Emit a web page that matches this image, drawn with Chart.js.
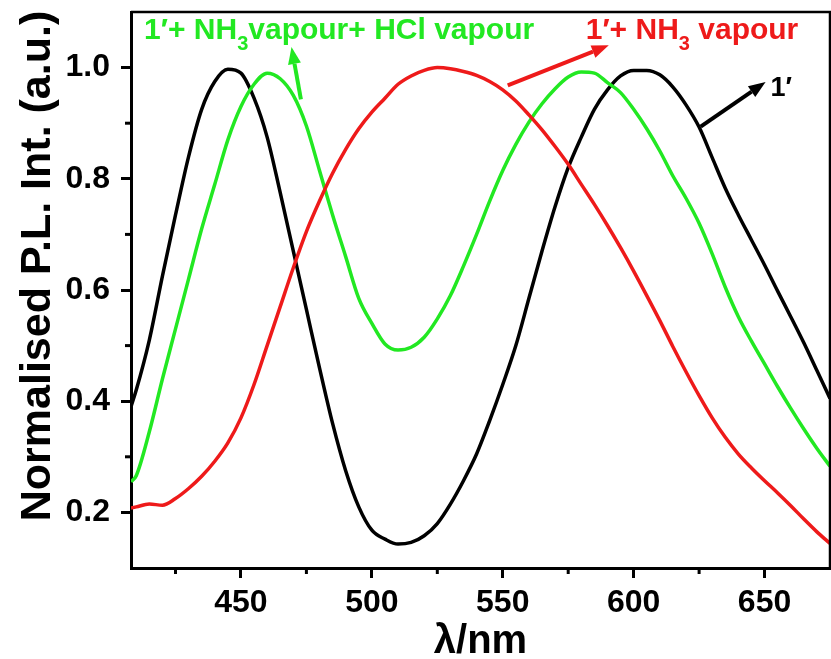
<!DOCTYPE html>
<html>
<head>
<meta charset="utf-8">
<title>Normalised PL spectra</title>
<script src="https://cdn.jsdelivr.net/npm/chart.js@4.4.1/dist/chart.umd.min.js"></script>
<style>
  html, body { margin: 0; padding: 0; background: #fff; }
  #wrap { width: 831px; height: 659px; }
</style>
</head>
<body>
<div id="wrap"><canvas id="pl-chart" width="831" height="659"></canvas></div>
<script>
// wavelength grid (nm)
var wavelength = [408, 410, 415, 420, 425, 430, 435, 440, 445, 450, 455, 460, 465, 470, 475,
  480, 485, 490, 495, 500, 505, 510, 515, 520, 525, 530, 535, 540, 545, 550, 555, 560, 565,
  570, 575, 580, 585, 590, 595, 600, 605, 610, 615, 620, 625, 630, 635, 640, 645, 650, 655,
  660, 665, 670, 675];

// 1'
var pristine = [0.39, 0.42, 0.51, 0.625, 0.735, 0.84, 0.925, 0.975, 0.997, 0.99, 0.945, 0.875,
  0.775, 0.67, 0.565, 0.46, 0.36, 0.275, 0.21, 0.168, 0.152, 0.143, 0.146, 0.158, 0.18, 0.215,
  0.257, 0.305, 0.365, 0.43, 0.50, 0.585, 0.67, 0.75, 0.82, 0.875, 0.925, 0.96, 0.985, 0.995,
  0.995, 0.987, 0.965, 0.933, 0.893, 0.838, 0.783, 0.735, 0.69, 0.645, 0.598, 0.552, 0.505, 0.455, 0.405];

// 1' + NH3 vapour
var ammonia = [0.208, 0.21, 0.215, 0.213, 0.225, 0.243, 0.265, 0.292, 0.325, 0.37, 0.43, 0.50,
  0.57, 0.64, 0.705, 0.76, 0.81, 0.853, 0.89, 0.92, 0.945, 0.97, 0.985, 0.995, 1.0, 0.998,
  0.993, 0.986, 0.975, 0.96, 0.94, 0.915, 0.888, 0.858, 0.826, 0.79, 0.754, 0.716, 0.676, 0.634,
  0.59, 0.545, 0.498, 0.453, 0.41, 0.37, 0.335, 0.305, 0.28, 0.257, 0.235, 0.212, 0.188, 0.165, 0.144];

// 1' + NH3 vapour + HCl vapour
var ammoniaHcl = [0.255, 0.266, 0.345, 0.44, 0.53, 0.62, 0.71, 0.79, 0.87, 0.93, 0.97, 0.99,
  0.98, 0.95, 0.895, 0.815, 0.735, 0.66, 0.585, 0.54, 0.503, 0.492, 0.497, 0.515, 0.548, 0.59,
  0.643, 0.70, 0.76, 0.815, 0.862, 0.902, 0.935, 0.962, 0.983, 0.992, 0.99, 0.973, 0.955, 0.925,
  0.89, 0.85, 0.805, 0.765, 0.72, 0.665, 0.605, 0.552, 0.508, 0.467, 0.426, 0.387, 0.35, 0.315, 0.283];

var xTicks = [450, 500, 550, 600, 650];
var xMinorTicks = [425, 475, 525, 575, 625];
var yTicks = [0.2, 0.4, 0.6, 0.8, 1.0];
var yTickLabels = ['0.2', '0.4', '0.6', '0.8', '1.0'];
var yMinorTicks = [0.3, 0.5, 0.7, 0.9];

var BLACK = '#000000';
var GREEN = '#22e822';
var RED = '#ee1a1a';
var FONT = '"Liberation Sans", Arial, sans-serif';

function toPoints(values) {
  return wavelength.map(function (w, i) { return { x: w, y: values[i] }; });
}

// text with a subscript piece, e.g. NH3
function drawRich(ctx, parts, x, y, size, color) {
  ctx.fillStyle = color;
  ctx.textAlign = 'left';
  ctx.textBaseline = 'alphabetic';
  parts.forEach(function (p) {
    if (p.sub) {
      ctx.font = 'bold ' + Math.round(size * 0.65) + 'px ' + FONT;
      ctx.fillText(p.t, x, y + size * 0.36);
    } else {
      ctx.font = 'bold ' + size + 'px ' + FONT;
      ctx.fillText(p.t, x, y);
    }
    x += ctx.measureText(p.t).width;
  });
}

function arrow(ctx, x1, y1, x2, y2, color) {
  var ang = Math.atan2(y2 - y1, x2 - x1);
  var len = 17, half = 6.5;
  var bx = x2 - Math.cos(ang) * len, by = y2 - Math.sin(ang) * len;
  ctx.strokeStyle = color;
  ctx.fillStyle = color;
  ctx.lineWidth = 4;
  ctx.beginPath();
  ctx.moveTo(x1, y1);
  ctx.lineTo(bx, by);
  ctx.stroke();
  ctx.beginPath();
  ctx.moveTo(x2, y2);
  ctx.lineTo(bx + Math.sin(ang) * half, by - Math.cos(ang) * half);
  ctx.lineTo(bx - Math.sin(ang) * half, by + Math.cos(ang) * half);
  ctx.closePath();
  ctx.fill();
}

var decorPlugin = {
  id: 'decor',
  afterDraw: function (chart) {
    var ctx = chart.ctx, a = chart.chartArea;
    var xs = chart.scales.x, ys = chart.scales.y;
    var X = function (v) { return xs.getPixelForValue(v); };
    var Y = function (v) { return ys.getPixelForValue(v); };
    ctx.save();

    // top and right frame
    ctx.strokeStyle = BLACK;
    ctx.lineWidth = 2.5;
    ctx.beginPath();
    ctx.moveTo(a.left, a.top);
    ctx.lineTo(a.right, a.top);
    ctx.lineTo(a.right, a.bottom);
    ctx.stroke();

    // minor ticks
    ctx.lineWidth = 3;
    xMinorTicks.forEach(function (v) {
      ctx.beginPath();
      ctx.moveTo(X(v), a.bottom);
      ctx.lineTo(X(v), a.bottom + 6);
      ctx.stroke();
    });
    yMinorTicks.forEach(function (v) {
      ctx.beginPath();
      ctx.moveTo(a.left, Y(v));
      ctx.lineTo(a.left - 6, Y(v));
      ctx.stroke();
    });

    // axis titles
    ctx.fillStyle = BLACK;
    ctx.font = 'bold 40px ' + FONT;
    ctx.textAlign = 'center';
    ctx.textBaseline = 'alphabetic';
    ctx.fillText('\u03bb/nm', (a.left + a.right) / 2, 653);

    ctx.save();
    ctx.translate(50, 266);
    ctx.rotate(-Math.PI / 2);
    ctx.font = 'bold 43px ' + FONT;
    ctx.fillText('Normalised P.L. Int. (a.u.)', 0, 0);
    ctx.restore();

    // curve labels
    drawRich(ctx, [{ t: '1\u2032+ NH' }, { t: '3', sub: true }, { t: 'vapour+ HCl vapour' }],
      X(413), 39, 30, GREEN);
    arrow(ctx, X(472.9), Y(0.943), X(469.3), Y(1.037), GREEN);

    drawRich(ctx, [{ t: '1\u2032+ NH' }, { t: '3', sub: true }, { t: ' vapour' }],
      X(581.7), 39, 30, RED);
    arrow(ctx, X(551.9), Y(0.968), X(590.5), Y(1.04), RED);

    drawRich(ctx, [{ t: '1\u2032' }], X(652.3), 96, 27, BLACK);
    arrow(ctx, X(625.6), Y(0.894), X(650.4), Y(0.974), BLACK);

    ctx.restore();
  }
};

var ctx = document.getElementById('pl-chart');
var plChart = new Chart(ctx, {
  type: 'line',
  data: {
    datasets: [{
      label: "1' + NH3 vapour",
      data: toPoints(ammonia),
      borderColor: RED
    }, {
      label: "1' + NH3 vapour + HCl vapour",
      data: toPoints(ammoniaHcl),
      borderColor: GREEN
    }, {
      label: "1'",
      data: toPoints(pristine),
      borderColor: BLACK
    }]
  },
  options: {
    responsive: false,
    animation: false,
    events: [],
    layout: { padding: { top: 12, right: 1, left: 0, bottom: 0 } },
    elements: {
      point: { radius: 0 },
      line: { borderWidth: 3.5, cubicInterpolationMode: 'monotone', fill: false }
    },
    plugins: {
      legend: { display: false },
      tooltip: { enabled: false }
    },
    scales: {
      x: {
        type: 'linear',
        position: 'bottom',
        min: 408,
        max: 675,
        afterBuildTicks: function (scale) {
          scale.ticks = xTicks.map(function (v) { return { value: v }; });
        },
        afterFit: function (scale) {
          scale.height = 91;
          scale.paddingLeft = 0;
          scale.paddingRight = 0;
        },
        ticks: {
          color: BLACK,
          padding: 6,
          maxRotation: 0,
          font: { family: FONT, size: 32, weight: 'bold' },
          callback: function (value) { return String(value); }
        },
        grid: {
          drawOnChartArea: false,
          drawTicks: true,
          tickLength: 10,
          tickWidth: 3,
          tickColor: BLACK
        },
        border: { display: true, color: BLACK, width: 3 }
      },
      y: {
        type: 'linear',
        position: 'left',
        min: 0.1,
        max: 1.1,
        afterBuildTicks: function (scale) {
          scale.ticks = yTicks.map(function (v) { return { value: v }; });
        },
        afterFit: function (scale) {
          scale.width = 131;
          scale.paddingTop = 0;
          scale.paddingBottom = 0;
        },
        ticks: {
          color: BLACK,
          padding: 11,
          font: { family: FONT, size: 32, weight: 'bold' },
          callback: function (value, index) { return yTickLabels[index]; }
        },
        grid: {
          drawOnChartArea: false,
          drawTicks: true,
          tickLength: 10,
          tickWidth: 3,
          tickColor: BLACK
        },
        border: { display: true, color: BLACK, width: 3 }
      }
    }
  },
  plugins: [decorPlugin]
});
</script>
</body>
</html>
